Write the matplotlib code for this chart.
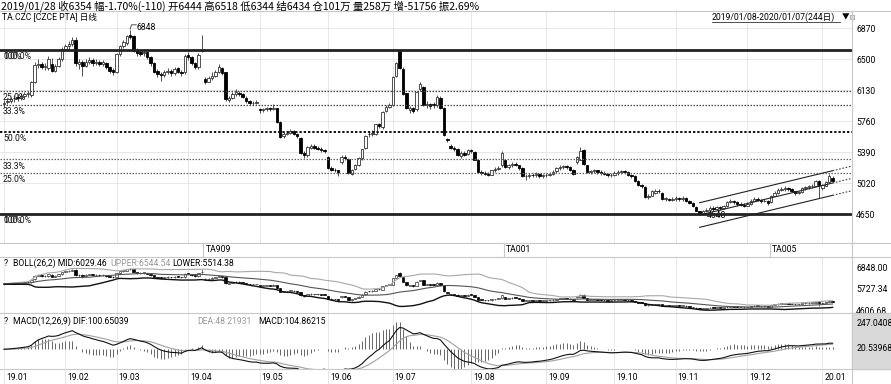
import numpy as np
import pandas as pd
import matplotlib
matplotlib.use('Agg')
import matplotlib.pyplot as plt
from matplotlib import font_manager
from matplotlib.lines import Line2D
from matplotlib.patches import Rectangle
from matplotlib.transforms import blended_transform_factory

# narrow latin face if there is one, CJK behind it
names = {f.name for f in font_manager.fontManager.ttflist}
if 'Liberation Sans Narrow' in names:
    LAT, FS = 'Liberation Sans Narrow', 7.5
else:
    LAT, FS = 'Roboto', 6.2
plt.rcParams['font.family'] = [LAT, 'Noto Sans CJK SC', 'DejaVu Sans']

# ---- daily OHLC, TA.CZC, 2019/01/08 - 2020/01/07 (244 days) ----
opens = [
    5960, 5990, 6000, 6030, 6050, 6030, 6060, 6080, 6070, 6230, 6430, 6440, 6400, 6390, 6444, 6360, 6420, 6500,
    6620, 6660, 6680, 6730, 6440, 6470, 6420, 6460, 6490, 6450, 6470, 6440, 6450, 6410, 6370,
    6350, 6560, 6650, 6690, 6790, 6770, 6600, 6580, 6570, 6580, 6520, 6450, 6360, 6320, 6310, 6340, 6360, 6330, 6390, 6350, 6340,
    6550, 6520, 6450, 6400, 6600, 6260, 6230, 6270, 6300, 6350, 6390, 6340, 6010, 6040, 6080, 6100, 6080, 6040, 6000, 5970, 5980,
    5900, 5890, 5900, 5910, 5900, 5910, 5750, 5580, 5610, 5620, 5640, 5610, 5560, 5380, 5350, 5440, 5460, 5440, 5430, 5410,
    5330, 5200, 5180, 5170, 5270, 5330, 5310, 5130, 5190, 5240, 5320, 5440, 5610, 5600, 5600, 5720, 5690, 5880, 5930,
    5950, 6300, 6590, 6380, 6090, 5890, 5910, 5900, 6140, 6170, 5950, 5960, 5960, 5950, 6040, 5920, 5540, 5460, 5440, 5420, 5340, 5380, 5370,
    5410, 5390, 5300, 5150, 5140, 5130, 5120, 5170, 5190, 5230, 5300, 5210, 5230, 5250, 5230, 5200, 5100, 5100, 5120, 5110, 5130, 5100,
    5110, 5120, 5130, 5160, 5200, 5210, 5220, 5210, 5180, 5270, 5300, 5410, 5230, 5150, 5160, 5170, 5150, 5140, 5130, 5110,
    5120, 5140, 5150, 5160, 5150, 5120, 5100, 5040, 5000, 4970, 4850, 4870, 4900, 4930, 4900, 4830, 4830, 4820,
    4830, 4840, 4830, 4840, 4810, 4780, 4730, 4680, 4660, 4680, 4700, 4720, 4710, 4730, 4720, 4740, 4790, 4800, 4790, 4770, 4760,
    4750, 4770, 4810, 4830, 4820, 4800, 4810, 4790, 4870, 4900, 4940, 4950, 4960, 4950, 4920, 4900, 4910, 4960, 4970, 4980, 4990, 5040,
    4960, 4990, 5030, 5080,
]
highs = [
    6010, 6030, 6050, 6070, 6080, 6090, 6110, 6120, 6240, 6460, 6500, 6470, 6450, 6540, 6518, 6440, 6520, 6640,
    6680, 6720, 6760, 6760, 6500, 6490, 6500, 6520, 6510, 6500, 6490, 6490, 6460, 6420, 6390,
    6570, 6670, 6730, 6790, 6848, 6790, 6630, 6610, 6620, 6590, 6530, 6460, 6380, 6350, 6370, 6390, 6380, 6400, 6410, 6370, 6560,
    6580, 6540, 6460, 6570, 6790, 6290, 6300, 6340, 6370, 6440, 6400, 6350, 6060, 6110, 6140, 6120, 6090, 6060, 6010, 6000, 6010,
    5920, 5920, 5930, 5930, 5960, 5920, 5760, 5630, 5640, 5660, 5650, 5620, 5570, 5400, 5460, 5490, 5480, 5460, 5450, 5430,
    5340, 5220, 5200, 5180, 5350, 5360, 5320, 5190, 5250, 5330, 5430, 5590, 5630, 5650, 5730, 5740, 5880, 5950, 5970,
    6300, 6460, 6610, 6400, 6100, 5940, 5930, 6120, 6220, 6180, 6000, 5980, 5990, 6070, 6060, 5930, 5560, 5480, 5460, 5440, 5400, 5400, 5430,
    5430, 5400, 5310, 5170, 5160, 5150, 5180, 5210, 5220, 5400, 5310, 5250, 5270, 5270, 5240, 5210, 5130, 5140, 5140, 5150, 5140, 5130,
    5140, 5150, 5170, 5210, 5230, 5240, 5240, 5220, 5190, 5340, 5450, 5430, 5240, 5180, 5190, 5180, 5170, 5160, 5140, 5140,
    5160, 5170, 5180, 5180, 5160, 5130, 5110, 5050, 5010, 4980, 4890, 4940, 4950, 4950, 4910, 4850, 4840, 4850,
    4860, 4850, 4860, 4850, 4820, 4790, 4740, 4690, 4700, 4720, 4740, 4740, 4750, 4750, 4760, 4810, 4830, 4820, 4800, 4790, 4780,
    4790, 4830, 4850, 4850, 4830, 4830, 4820, 4880, 4920, 4960, 4970, 4980, 4970, 4960, 4930, 4930, 4970, 4990, 5000, 5010, 5050, 5060,
    5010, 5040, 5130, 5100,
]
lows = [
    5930, 5960, 5980, 5990, 6000, 6010, 6040, 6050, 6050, 6210, 6390, 6380, 6370, 6370, 6344, 6340, 6400, 6480,
    6600, 6620, 6660, 6420, 6380, 6300, 6400, 6440, 6420, 6430, 6420, 6420, 6380, 6330, 6310,
    6330, 6540, 6630, 6670, 6740, 6580, 6540, 6530, 6540, 6500, 6420, 6330, 6290, 6240, 6290, 6320, 6300, 6310, 6330, 6300, 6320,
    6490, 6430, 6380, 6380, 6580, 6200, 6220, 6250, 6290, 6330, 6310, 6000, 5990, 6020, 6060, 6060, 6030, 5980, 5950, 5950, 5960,
    5860, 5870, 5880, 5880, 5890, 5740, 5560, 5560, 5590, 5600, 5590, 5560, 5370, 5320, 5330, 5420, 5420, 5410, 5390, 5380,
    5190, 5160, 5150, 5100, 5250, 5300, 5130, 5110, 5170, 5220, 5300, 5420, 5570, 5580, 5590, 5680, 5670, 5870, 5910,
    5940, 6280, 6380, 6070, 5900, 5860, 5850, 5880, 6120, 5940, 5920, 5900, 5920, 5930, 5900, 5580, 5510, 5420, 5400, 5340, 5320, 5340, 5360,
    5380, 5290, 5140, 5120, 5110, 5100, 5110, 5150, 5170, 5210, 5200, 5190, 5210, 5220, 5180, 5090, 5060, 5080, 5090, 5090, 5080, 5080,
    5090, 5100, 5110, 5140, 5180, 5190, 5190, 5160, 5120, 5250, 5290, 5240, 5140, 5130, 5140, 5130, 5120, 5110, 5090, 5090,
    5100, 5120, 5130, 5130, 5100, 5080, 5030, 4980, 4960, 4840, 4830, 4860, 4890, 4900, 4820, 4810, 4800, 4800,
    4810, 4810, 4810, 4790, 4770, 4730, 4680, 4648, 4650, 4670, 4690, 4690, 4700, 4700, 4710, 4730, 4780, 4770, 4750, 4740, 4730,
    4740, 4760, 4800, 4800, 4780, 4790, 4760, 4780, 4860, 4890, 4920, 4930, 4930, 4910, 4880, 4890, 4900, 4940, 4950, 4960, 4980, 4840,
    4940, 4980, 5020, 5030,
]
closes = [
    5980, 6000, 6020, 6040, 6030, 6060, 6080, 6090, 6220, 6430, 6440, 6410, 6420, 6500, 6354, 6420, 6500, 6620,
    6650, 6680, 6730, 6450, 6470, 6420, 6470, 6490, 6450, 6470, 6440, 6460, 6400, 6360, 6340,
    6560, 6650, 6700, 6770, 6760, 6600, 6570, 6560, 6580, 6520, 6450, 6350, 6320, 6310, 6340, 6360, 6330, 6380, 6350, 6330, 6540,
    6520, 6450, 6400, 6550, 6610, 6230, 6270, 6300, 6350, 6400, 6330, 6020, 6040, 6080, 6110, 6080, 6050, 6000, 5970, 5980, 5990,
    5890, 5900, 5910, 5900, 5920, 5750, 5570, 5610, 5620, 5640, 5610, 5580, 5380, 5350, 5450, 5460, 5440, 5430, 5410, 5400,
    5200, 5180, 5170, 5150, 5330, 5320, 5140, 5180, 5230, 5320, 5420, 5580, 5600, 5620, 5720, 5700, 5870, 5930, 5950,
    6290, 6450, 6390, 6080, 5920, 5910, 5880, 6110, 6200, 5950, 5960, 5940, 5950, 6050, 5920, 5590, 5530, 5440, 5420, 5350, 5380, 5360, 5410,
    5400, 5300, 5150, 5140, 5130, 5120, 5170, 5190, 5200, 5380, 5210, 5230, 5250, 5240, 5200, 5100, 5100, 5120, 5110, 5130, 5100, 5110,
    5120, 5130, 5150, 5200, 5210, 5220, 5210, 5180, 5130, 5330, 5400, 5250, 5150, 5160, 5170, 5150, 5140, 5130, 5110, 5120,
    5140, 5150, 5160, 5150, 5120, 5100, 5040, 5000, 4980, 4850, 4870, 4920, 4930, 4920, 4830, 4830, 4820, 4830,
    4840, 4830, 4840, 4810, 4780, 4740, 4690, 4660, 4680, 4700, 4720, 4710, 4730, 4720, 4740, 4790, 4800, 4790, 4770, 4760, 4750,
    4770, 4810, 4830, 4820, 4800, 4810, 4780, 4870, 4900, 4940, 4950, 4960, 4950, 4920, 4900, 4910, 4960, 4970, 4980, 4990, 5040, 5000,
    5000, 5030, 5100, 5040,
]

month_labels = ['19.01', '19.02', '19.03', '19.04', '19.05', '19.06', '19.07',
                '19.08', '19.09', '19.10', '19.11', '19.12', '20.01']
month_start = [0, 18, 33, 54, 75, 95, 114, 137, 159, 179, 197, 218, 240]
contracts = ['TA909', 'TA001', 'TA005']
contract_roll = [58.5, 146.5, 224.5]

price_ticks = [6870, 6500, 6130, 5760, 5390, 5020, 4650]
boll_ticks = [6848.00, 5727.34, 4606.68]
macd_ticks = [247.0408, 20.53968]

# percentage lines between the July high and the November low
fib_hi, fib_lo = 6610, 4648
fib_ratio = [1.0, 0.75, 0.667, 0.5, 0.333, 0.25, 0.0]
fib_label = ['0.0%', '25.0%', '33.3%', '50.0%', '33.3%', '25.0%', '0.0%']

# rising channel drawn from the low
chan_idx = [204, 243]
chan_mid = [4638, 5020]
chan_half = 147

o = np.array(opens, float)
h = np.array(highs, float)
l = np.array(lows, float)
c = np.array(closes, float)
n = len(c)
idx = np.arange(n)

# indicators
s = pd.Series(c)
mid = s.rolling(26, min_periods=1).mean()
sd = s.rolling(26, min_periods=1).std(ddof=0).fillna(0)
upper = mid + 2 * sd
lower = mid - 2 * sd
dif = s.ewm(span=12, adjust=False).mean() - s.ewm(span=26, adjust=False).mean()
dea = dif.ewm(span=9, adjust=False).mean()
hist = 2 * (dif - dea)

W, H = 891, 384
fig = plt.figure(figsize=(W / 100, H / 100), dpi=100)
fig.patch.set_facecolor('white')


def rect(x0, y0, x1, y1):
    return [x0 / W, 1 - y1 / H, (x1 - x0) / W, (y1 - y0) / H]


def ftext(x, y, t, **kw):
    kw.setdefault('fontsize', FS)
    kw.setdefault('va', 'center')
    return fig.text(x / W, 1 - y / H, t, **kw)


def hline(y, x0=0, x1=W, color='#c8c8c8', lw=0.8):
    fig.add_artist(Line2D([x0 / W, x1 / W], [1 - y / H, 1 - y / H],
                          transform=fig.transFigure, color=color, lw=lw))


def vline(x, y0, y1, color='#c8c8c8', lw=0.8):
    fig.add_artist(Line2D([x / W, x / W], [1 - y0 / H, 1 - y1 / H],
                          transform=fig.transFigure, color=color, lw=lw))


XL = (-4 / 3.41, (852 - 4) / 3.41)


def setup(ax, ylim, ticks, labels):
    ax.set_xlim(XL)
    ax.set_ylim(ylim)
    for sp in ax.spines.values():
        sp.set_visible(False)
    ax.set_xticks([])
    ax.yaxis.tick_right()
    ax.set_yticks(ticks)
    ax.set_yticklabels(labels)
    ax.tick_params(axis='y', length=0, pad=3, labelsize=FS)
    ax.patch.set_alpha(0)
    for m in month_start:
        ax.axvline(m, color='#e4e4e4', lw=0.6, zorder=0)


def candles(ax, lw, minh):
    up = c >= o
    ax.vlines(idx, l, h, color='#333333', lw=lw, zorder=2)
    body = np.maximum(np.abs(c - o), minh)
    base = np.minimum(o, c)
    ax.bar(idx[up], body[up], bottom=base[up], width=0.72, color='white',
           edgecolor='#333333', lw=lw, zorder=3)
    ax.bar(idx[~up], body[~up], bottom=base[~up], width=0.72, color='black',
           edgecolor='black', lw=lw, zorder=3)


# ---- main panel ----
ax = fig.add_axes(rect(0, 11, 852, 243))
setup(ax, (4304, 7073), price_ticks, [str(p) for p in price_ticks])
for p in price_ticks:
    ax.axhline(p, color='#e4e4e4', lw=0.6, zorder=0)
candles(ax, 0.6, 8)

tr = blended_transform_factory(ax.transAxes, ax.transData)
styles = [dict(ls='-', lw=2.0, color='#222222'),
          dict(ls=(0, (1.2, 1.2)), lw=0.9, color='#444444'),
          dict(ls=(0, (1.2, 1.2)), lw=0.9, color='#444444'),
          dict(ls=(0, (1.2, 1.0)), lw=1.4, color='#111111'),
          dict(ls=(0, (1.2, 1.2)), lw=0.9, color='#666666'),
          dict(ls=(0, (1.2, 1.2)), lw=0.9, color='#666666'),
          dict(ls='-', lw=2.0, color='#222222')]
for r, lab, st in zip(fib_ratio, fib_label, styles):
    lev = fib_lo + r * (fib_hi - fib_lo)
    ax.axhline(lev, zorder=4, **st)
    labs = [lab, '100.0%'] if r in (0.0, 1.0) else [lab]
    for t in labs:
        ax.annotate(t, xy=(3 / 852, lev), xycoords=tr, xytext=(0, -1.5),
                    textcoords='offset points', va='top', ha='left',
                    fontsize=FS, color='#111111', zorder=5)

# channel
cx = np.array(chan_idx, float)
cm = np.array(chan_mid, float)
slope = (cm[1] - cm[0]) / (cx[1] - cx[0])
ext_x = np.array([cx[1], XL[1]])
ext_m = cm[1] + slope * (ext_x - cx[1])
for off in (chan_half, 0, -chan_half):
    ax.plot(cx, cm + off, color='#222222', lw=0.8, zorder=4)
    ax.plot(ext_x, ext_m + off, color='#444444', lw=0.8, ls=(0, (1.5, 1.5)), zorder=4)

# high / low marks
hi_i = int(np.argmax(h))
lo_i = int(np.argmin(l))
ax.plot([hi_i, hi_i + 0.4, hi_i + 1.8], [h[hi_i] + 10, h[hi_i] + 60, h[hi_i] + 60],
        color='#333333', lw=0.6, zorder=5)
ax.text(hi_i + 2.0, h[hi_i] + 30, f'{h[hi_i]:.0f}', fontsize=FS, va='center', ha='left')
ax.text(lo_i + 2.2, l[lo_i] - 20, f'{l[lo_i]:.0f}', fontsize=FS, va='center', ha='left')

# ---- BOLL panel ----
axb = fig.add_axes(rect(0, 257, 852, 313))
setup(axb, (4448, 7415), boll_ticks, [f'{v:.2f}' for v in boll_ticks])
axb.plot(idx, upper, color='#a8a8a8', lw=0.8, zorder=4)
axb.plot(idx, mid, color='#555555', lw=0.8, zorder=4)
axb.plot(idx, lower, color='#111111', lw=1.0, zorder=4)
candles(axb, 0.5, 30)

# ---- MACD panel ----
axm = fig.add_axes(rect(0, 313, 852, 369))
setup(axm, (-179, 329), macd_ticks, ['247.0408', '20.53968'])
axm.vlines(idx, 0, hist, color='#666666', lw=0.7, zorder=2)
axm.plot(idx, dea, color='#a0a0a0', lw=0.8, zorder=3)
axm.plot(idx, dif, color='#111111', lw=0.8, zorder=3)
fig.add_artist(Rectangle((852 / W, 1 - 369 / H), 39 / W, 56 / H,
                         transform=fig.transFigure, color='#d9d9d9', zorder=0))

# ---- frame lines ----
hline(11)
hline(243)
hline(257)
hline(313)
hline(369)
vline(852, 11, 384)

# ---- texts ----
ftext(1, 6, '2019/01/28 收6354 幅-1.70%(-110) 开6444 高6518 低6344 结6434 仓101万 量258万 增-51756 振2.69%',
      fontsize=7.5, family=['Noto Sans CJK SC', 'DejaVu Sans'])
ftext(2, 17, 'TA.CZC [CZCE PTA] 日线')
ftext(712, 17, '2019/01/08-2020/01/07(244日)')
hline(21.5, 712, 840, color='#333333', lw=0.6)
ftext(842, 17, '▼', fontsize=5.5, family=['Noto Sans CJK SC', 'DejaVu Sans'])
fig.add_artist(Rectangle((850 / W, 1 - 19 / H), 4 / W, 4 / H, transform=fig.transFigure,
                         facecolor='#dddddd', edgecolor='#999999', lw=0.5))

for name, r in zip(contracts, contract_roll):
    x = 4 + 3.41 * r
    vline(x, 243, 257, color='#c8c8c8', lw=0.8)
    ftext(x + 2, 250, name)

ftext(4, 263, '?')
ftext(13, 263, 'BOLL(26,2) MID:6029.46')
ftext(110, 263, 'UPPER:6544.54', color='#999999')
ftext(172, 263, 'LOWER:5514.38')

ftext(4, 321, '?')
ftext(13, 321, 'MACD(12,26,9) DIF:100.65039')
ftext(197, 321, 'DEA:48.21931', color='#999999')
ftext(258, 321, 'MACD:104.86215')

for lab, m in zip(month_labels, month_start):
    x = 4 + 3.41 * m
    vline(x, 369, 384, color='#e0e0e0', lw=0.6)
    ftext(x + 2, 377, lab)

fig.savefig('out.png', dpi=100, facecolor='white')
